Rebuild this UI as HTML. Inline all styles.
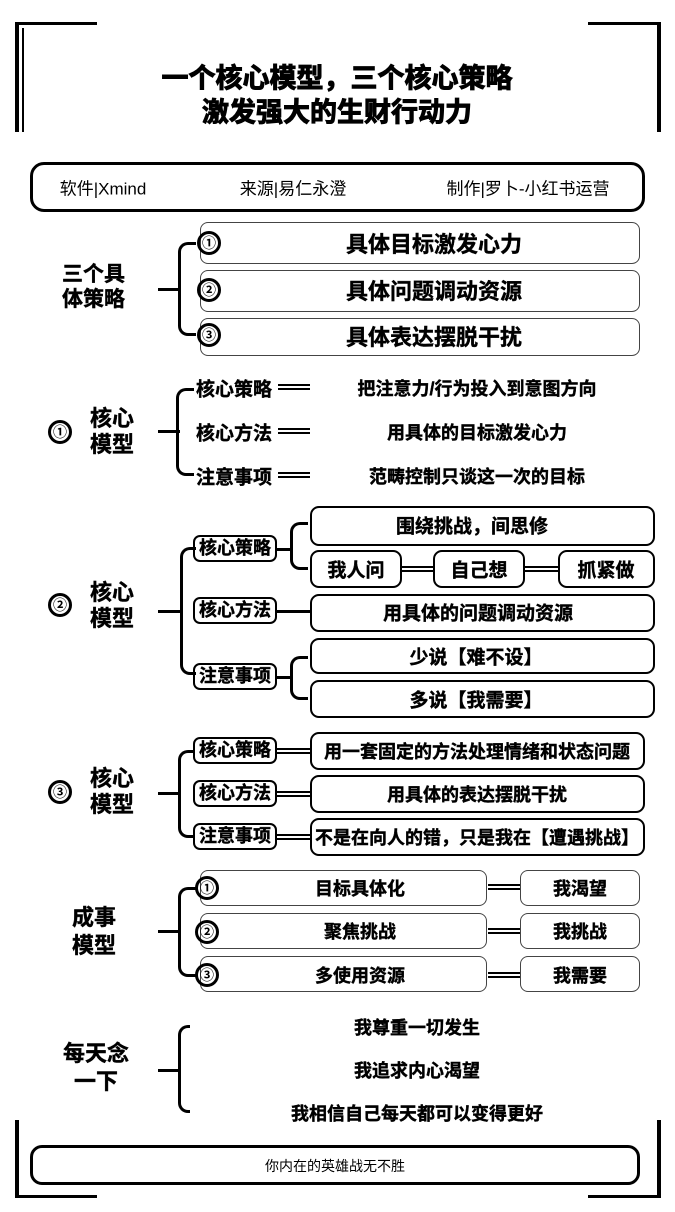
<!DOCTYPE html>
<html><head><meta charset="utf-8"><style>
body{margin:0;width:675px;height:1212px;background:#fff;position:relative;overflow:hidden;font-family:"Liberation Sans","Noto Sans CJK SC",sans-serif;color:#000}
div{position:absolute;box-sizing:border-box}
.t{font-weight:bold;white-space:nowrap;text-align:center;-webkit-text-stroke:0.4px #000}
.c{transform:translate(-50%,-50%)}
.box{border:1.5px solid #444;border-radius:8px}
.bx2{border:2px solid #000;border-radius:9px}
.circ{width:24px;height:24px;border:3px solid #000;border-radius:50%;font-weight:bold;font-size:14px;line-height:18px;text-align:center}
.dl{height:6px;border-top:2px solid #000;border-bottom:2px solid #000}
.br{border:3px solid #000;border-right:none;border-radius:10px 0 0 10px}
.h{height:3px;background:#000}
.sub{border:2px solid #000;border-radius:7px;font-weight:bold;font-size:18px;text-align:center;line-height:22px;white-space:nowrap;-webkit-text-stroke:0.4px #000}
</style></head><body>
<!-- corners -->
<div style="left:15px;top:22px;width:82px;height:3px;background:#000"></div>
<div style="left:15px;top:22px;width:4px;height:110px;background:#000"></div>
<div style="left:22px;top:28px;width:2px;height:104px;background:#000"></div>
<div style="left:588px;top:22px;width:72px;height:3px;background:#000"></div>
<div style="left:657px;top:22px;width:4px;height:110px;background:#000"></div>
<div style="left:15px;top:1195px;width:82px;height:3px;background:#000"></div>
<div style="left:15px;top:1120px;width:4px;height:78px;background:#000"></div>
<div style="left:588px;top:1195px;width:72px;height:3px;background:#000"></div>
<div style="left:657px;top:1120px;width:4px;height:78px;background:#000"></div>
<!-- title -->
<div class="t c" style="left:337px;top:76px;font-size:27px;-webkit-text-stroke:1px #000">一个核心模型，三个核心策略</div>
<div class="t c" style="left:337px;top:110px;font-size:27px;-webkit-text-stroke:1px #000">激发强大的生财行动力</div>
<!-- header -->
<div style="left:30px;top:162px;width:615px;height:50px;border:3px solid #000;border-radius:14px"></div>
<div class="c" style="left:103px;top:187px;font-size:17px;white-space:nowrap">软件|Xmind</div>
<div class="c" style="left:293px;top:187px;font-size:17px;white-space:nowrap">来源|易仁永澄</div>
<div class="c" style="left:528px;top:187px;font-size:17px;white-space:nowrap">制作|罗卜-小红书运营</div>
<!-- section 1 -->
<div class="t" style="left:62px;top:262px;font-size:21px;line-height:25px">三个具<br>体策略</div>
<div class="h" style="left:158px;top:288px;width:22px"></div>
<div class="br" style="left:178px;top:242px;width:18px;height:94px"></div>
<div class="box" style="left:200px;top:222px;width:440px;height:42px"></div>
<div class="box" style="left:200px;top:270px;width:440px;height:42px"></div>
<div class="box" style="left:200px;top:318px;width:440px;height:38px"></div>
<div class="circ" style="left:197px;top:231px">①</div>
<div class="circ" style="left:197px;top:278px">②</div>
<div class="circ" style="left:197px;top:323px">③</div>
<div class="t c" style="left:434px;top:243px;font-size:22px">具体目标激发心力</div>
<div class="t c" style="left:434px;top:290px;font-size:22px">具体问题调动资源</div>
<div class="t c" style="left:434px;top:336px;font-size:22px">具体表达摆脱干扰</div>
<!-- section 2 -->
<div class="circ" style="left:48px;top:420px">①</div>
<div class="t" style="left:90px;top:406px;font-size:22px;line-height:26px">核心<br>模型</div>
<div class="h" style="left:158px;top:430px;width:22px"></div>
<div class="br" style="left:176px;top:388px;width:18px;height:88px"></div>
<div class="t c" style="left:234px;top:388px;font-size:19px">核心策略</div>
<div class="t c" style="left:234px;top:432px;font-size:19px">核心方法</div>
<div class="t c" style="left:234px;top:476px;font-size:19px">注意事项</div>
<div class="dl" style="left:278px;top:384px;width:32px"></div>
<div class="dl" style="left:278px;top:428px;width:32px"></div>
<div class="dl" style="left:278px;top:472px;width:32px"></div>
<div class="t c" style="left:477px;top:388px;font-size:18px">把注意力/行为投入到意图方向</div>
<div class="t c" style="left:477px;top:432px;font-size:18px">用具体的目标激发心力</div>
<div class="t c" style="left:477px;top:476px;font-size:18px">范畴控制只谈这一次的目标</div>
<!-- section 3 -->
<div class="circ" style="left:48px;top:593px">②</div>
<div class="t" style="left:90px;top:580px;font-size:22px;line-height:26px">核心<br>模型</div>
<div class="h" style="left:158px;top:610px;width:24px"></div>
<div class="br" style="left:180px;top:547px;width:16px;height:128px"></div>
<div class="sub" style="left:193px;top:535px;width:84px;height:27px">核心策略</div>
<div class="sub" style="left:193px;top:597px;width:84px;height:27px">核心方法</div>
<div class="sub" style="left:193px;top:663px;width:84px;height:27px">注意事项</div>
<div class="h" style="left:277px;top:548px;width:14px"></div>
<div class="br" style="left:290px;top:522px;width:18px;height:48px;border-width:3px"></div>
<div class="h" style="left:277px;top:610px;width:33px"></div>
<div class="h" style="left:277px;top:676px;width:14px"></div>
<div class="br" style="left:290px;top:656px;width:18px;height:44px;border-width:3px"></div>
<div class="bx2" style="left:310px;top:506px;width:345px;height:40px"></div>
<div class="t c" style="left:472px;top:525px;font-size:19px">围绕挑战，间思修</div>
<div class="bx2" style="left:310px;top:550px;width:92px;height:38px"></div>
<div class="bx2" style="left:433px;top:550px;width:92px;height:38px"></div>
<div class="bx2" style="left:558px;top:550px;width:97px;height:38px"></div>
<div class="t c" style="left:356px;top:569px;font-size:19px">我人问</div>
<div class="t c" style="left:479px;top:569px;font-size:19px">自己想</div>
<div class="t c" style="left:606px;top:569px;font-size:19px">抓紧做</div>
<div class="dl" style="left:402px;top:566px;width:31px"></div>
<div class="dl" style="left:525px;top:566px;width:33px"></div>
<div class="bx2" style="left:310px;top:594px;width:345px;height:38px"></div>
<div class="t c" style="left:478px;top:612px;font-size:19px">用具体的问题调动资源</div>
<div class="bx2" style="left:310px;top:638px;width:345px;height:36px"></div>
<div class="t c" style="left:476px;top:656px;font-size:19px">少说【难不设】</div>
<div class="bx2" style="left:310px;top:680px;width:345px;height:38px"></div>
<div class="t c" style="left:476px;top:699px;font-size:19px">多说【我需要】</div>
<!-- section 4 -->
<div class="circ" style="left:48px;top:780px">③</div>
<div class="t" style="left:90px;top:766px;font-size:22px;line-height:26px">核心<br>模型</div>
<div class="h" style="left:158px;top:792px;width:22px"></div>
<div class="br" style="left:178px;top:750px;width:16px;height:88px"></div>
<div class="sub" style="left:193px;top:737px;width:84px;height:27px">核心策略</div>
<div class="sub" style="left:193px;top:780px;width:84px;height:27px">核心方法</div>
<div class="sub" style="left:193px;top:823px;width:84px;height:27px">注意事项</div>
<div class="dl" style="left:277px;top:748px;width:33px"></div>
<div class="dl" style="left:277px;top:791px;width:33px"></div>
<div class="dl" style="left:277px;top:834px;width:33px"></div>
<div class="bx2" style="left:310px;top:732px;width:335px;height:38px"></div>
<div class="bx2" style="left:310px;top:775px;width:335px;height:38px"></div>
<div class="bx2" style="left:310px;top:818px;width:335px;height:38px"></div>
<div class="t c" style="left:477px;top:751px;font-size:18px">用一套固定的方法处理情绪和状态问题</div>
<div class="t c" style="left:477px;top:794px;font-size:18px">用具体的表达摆脱干扰</div>
<div class="t c" style="left:477px;top:837px;font-size:18px">不是在向人的错，只是我在【遭遇挑战】</div>
<!-- section 5 -->
<div class="t" style="left:72px;top:904px;font-size:22px;line-height:28px">成事<br>模型</div>
<div class="h" style="left:158px;top:930px;width:22px"></div>
<div class="br" style="left:178px;top:887px;width:18px;height:90px"></div>
<div class="box" style="left:200px;top:870px;width:287px;height:36px"></div>
<div class="box" style="left:200px;top:913px;width:287px;height:36px"></div>
<div class="box" style="left:200px;top:956px;width:287px;height:36px"></div>
<div class="circ" style="left:195px;top:876px">①</div>
<div class="circ" style="left:195px;top:920px">②</div>
<div class="circ" style="left:195px;top:963px">③</div>
<div class="t c" style="left:360px;top:888px;font-size:18px">目标具体化</div>
<div class="t c" style="left:360px;top:931px;font-size:18px">聚焦挑战</div>
<div class="t c" style="left:360px;top:975px;font-size:18px">多使用资源</div>
<div class="dl" style="left:488px;top:884px;width:32px"></div>
<div class="dl" style="left:488px;top:928px;width:32px"></div>
<div class="dl" style="left:488px;top:972px;width:32px"></div>
<div class="box" style="left:520px;top:870px;width:120px;height:36px"></div>
<div class="box" style="left:520px;top:913px;width:120px;height:36px"></div>
<div class="box" style="left:520px;top:956px;width:120px;height:36px"></div>
<div class="t c" style="left:580px;top:888px;font-size:18px">我渴望</div>
<div class="t c" style="left:580px;top:931px;font-size:18px">我挑战</div>
<div class="t c" style="left:580px;top:975px;font-size:18px">我需要</div>
<!-- section 6 -->
<div class="t" style="left:58px;top:1040px;font-size:22px;line-height:28px;text-align:center;width:76px">每天念<br>一下</div>
<div class="h" style="left:158px;top:1069px;width:22px"></div>
<div class="br" style="left:178px;top:1025px;width:12px;height:88px"></div>
<div class="t c" style="left:417px;top:1027px;font-size:18px">我尊重一切发生</div>
<div class="t c" style="left:417px;top:1070px;font-size:18px">我追求内心渴望</div>
<div class="t c" style="left:417px;top:1113px;font-size:18px">我相信自己每天都可以变得更好</div>
<!-- footer -->
<div style="left:30px;top:1145px;width:610px;height:40px;border:3px solid #000;border-radius:12px"></div>
<div class="c" style="left:335px;top:1166px;font-size:14px;white-space:nowrap">你内在的英雄战无不胜</div>
</body></html>
